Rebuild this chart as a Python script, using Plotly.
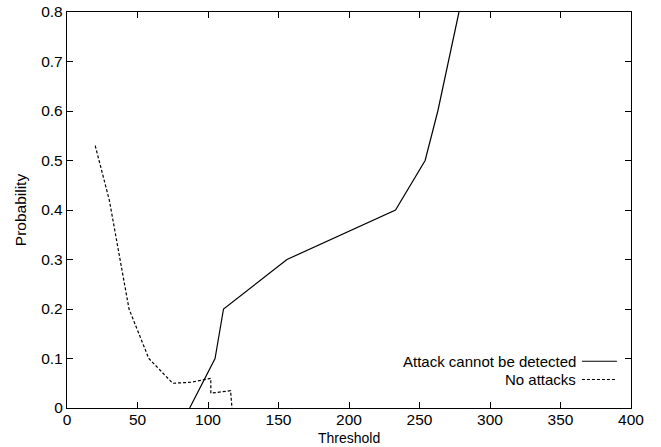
import plotly.graph_objects as go

# Data
detect_x = [87, 105, 111, 156, 233, 254, 263, 278]
detect_y = [0.0, 0.1, 0.2, 0.3, 0.4, 0.5, 0.6, 0.8]
noatk_x = [20, 30, 44, 58, 75, 88, 102, 102, 116, 117]
noatk_y = [0.53, 0.42, 0.2, 0.1, 0.05, 0.052, 0.06, 0.03, 0.035, 0.0]
series_names = ["Attack cannot be detected", "No attacks"]
x_ticks = [0, 50, 100, 150, 200, 250, 300, 350, 400]
y_ticks = [0, 0.1, 0.2, 0.3, 0.4, 0.5, 0.6, 0.7, 0.8]
y_tick_text = ["0", "0.1", "0.2", "0.3", "0.4", "0.5", "0.6", "0.7", "0.8"]
x_title = "Threshold"
y_title = "Probability"

FONT = "Liberation Sans, Arial, sans-serif"
FS = 15.5

fig = go.Figure()
fig.add_trace(go.Scatter(x=detect_x, y=detect_y, mode="lines", name=series_names[0],
                         line=dict(color="black", width=1.2), showlegend=False))
fig.add_trace(go.Scatter(x=noatk_x, y=noatk_y, mode="lines", name=series_names[1],
                         line=dict(color="black", width=1.2, dash="3px,2px"), showlegend=False))

axis_common = dict(showgrid=False, zeroline=False, showline=True, linecolor="black", linewidth=1.3,
                   mirror="ticks", ticks="inside", ticklen=6, tickcolor="black", tickwidth=1,
                   automargin=False,
                   tickfont=dict(family=FONT, size=FS, color="black"))
fig.update_xaxes(range=[0, 400], tickvals=x_ticks, ticktext=[str(v) for v in x_ticks],
                 ticklabelstandoff=-3, **axis_common)
fig.update_yaxes(range=[0, 0.8], tickvals=y_ticks, ticktext=y_tick_text, **axis_common)

# axis titles
fig.add_annotation(x=0.5, y=-0.098, xref="paper", yref="paper", text=x_title, showarrow=False,
                   xanchor="center", yanchor="bottom", borderpad=0,
                   font=dict(family=FONT, size=14, color="black"))
fig.add_annotation(x=-0.083, y=0.5, xref="paper", yref="paper", text=y_title, showarrow=False,
                   textangle=-90, xanchor="center", yanchor="middle",
                   font=dict(family=FONT, size=FS, color="black"))

# gnuplot-style legend: text then line sample
rows = [0.118, 0.072]
dashes = ["solid", "3px,2px"]
for name, yy, d in zip(series_names, rows, dashes):
    fig.add_annotation(x=0.904, y=yy, xref="paper", yref="paper", text=name, showarrow=False,
                       xanchor="right", yanchor="middle", borderpad=0,
                       font=dict(family=FONT, size=15, color="black"))
    fig.add_shape(type="line", xref="paper", yref="paper", x0=0.913, x1=0.975, y0=yy, y1=yy,
                  line=dict(color="black", width=1.2, dash=d))

fig.update_layout(width=661, height=447, margin=dict(l=67, r=30, t=12, b=39),
                  plot_bgcolor="white", paper_bgcolor="white",
                  font=dict(family=FONT, size=FS, color="black"))
fig.write_html("out.html")
